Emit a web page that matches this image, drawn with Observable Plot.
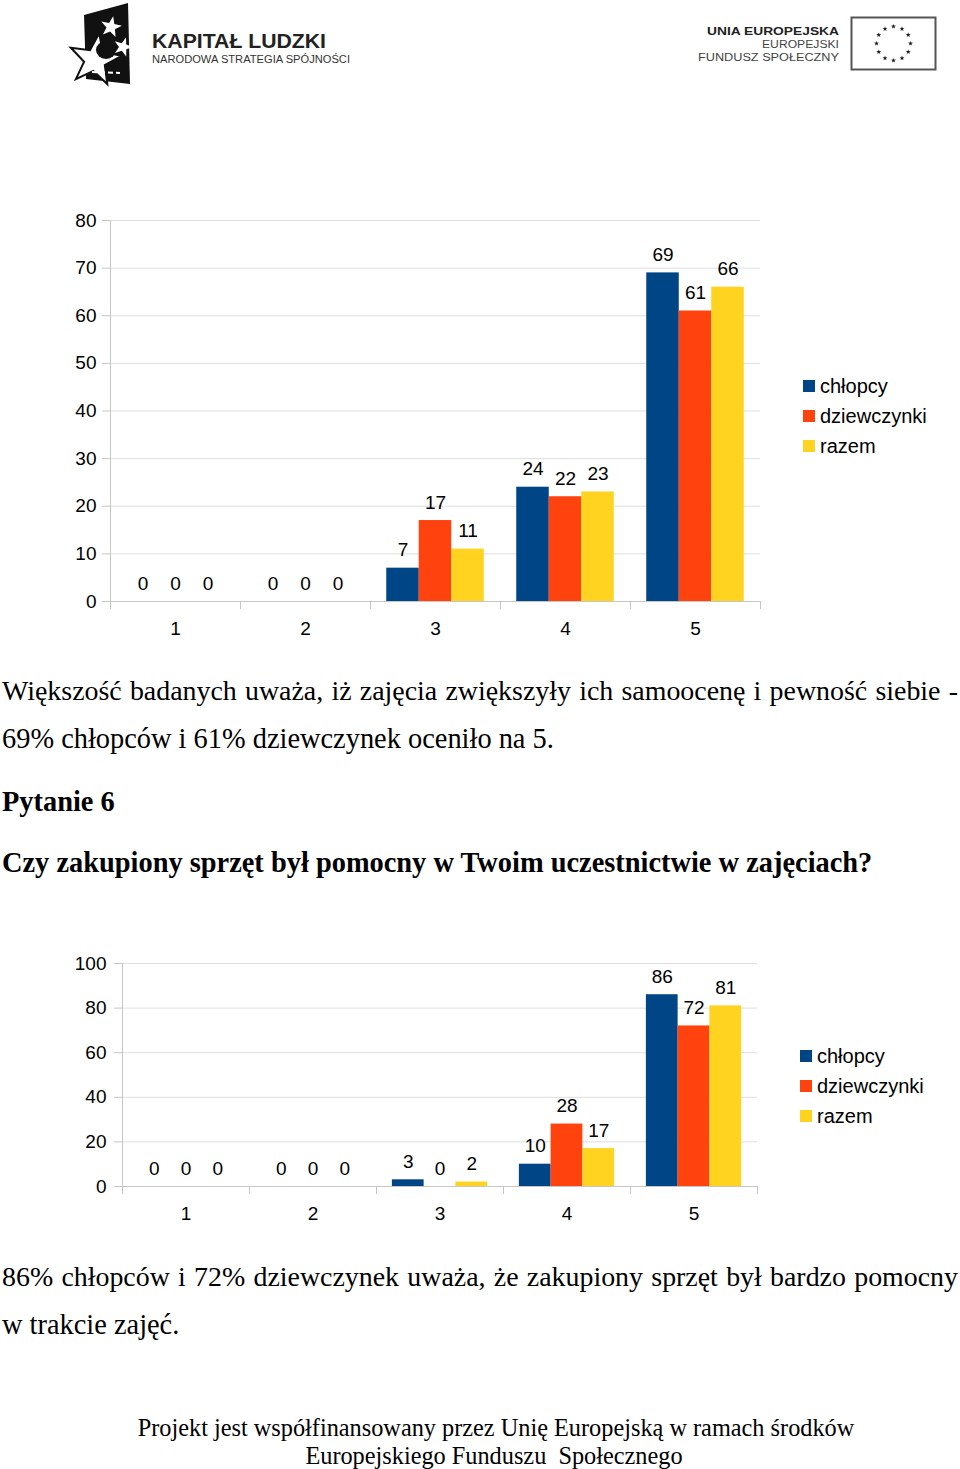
<!DOCTYPE html>
<html><head><meta charset="utf-8">
<script src="https://cdn.jsdelivr.net/npm/d3@7"></script>
<script src="https://cdn.jsdelivr.net/npm/@observablehq/plot@0.6"></script>
<style>
body{margin:0;background:#fff;}
#page{position:relative;width:960px;height:1469px;overflow:hidden;font-family:"Liberation Serif","Times New Roman",serif;color:#000;background:#fff;}
.abs{position:absolute;line-height:1;white-space:pre;}
.just{white-space:nowrap;text-align:justify;text-align-last:justify;}
.legend{position:absolute;font-family:"Liberation Sans",Arial,sans-serif;font-size:20px;}
.legend .row{display:flex;align-items:center;height:30px;}
.legend .sw{width:12px;height:12px;margin-right:5px;}
.chart{position:absolute;left:0;}
</style></head><body><div id="page"></div>
<script>
const categories = [1, 2, 3, 4, 5];
const series = ["chłopcy", "dziewczynki", "razem"];
const seriesColors = ["#004586", "#ff420e", "#ffd320"];
const q5Boys = [0, 0, 7, 24, 69];
const q5Girls = [0, 0, 17, 22, 61];
const q5Total = [0, 0, 11, 23, 66];
const q6Boys = [0, 0, 3, 10, 86];
const q6Girls = [0, 0, 0, 28, 72];
const q6Total = [0, 0, 2, 17, 81];
const q5Ticks = [0, 10, 20, 30, 40, 50, 60, 70, 80];
const q6Ticks = [0, 20, 40, 60, 80, 100];

const page = document.getElementById("page");

// ---- header logos (decorative) ----
function star(cx, cy, R, r, rot) {
  const pts = [];
  for (let k = 0; k < 10; k++) {
    const a = rot + k * Math.PI / 5;
    const rr = k % 2 ? r : R;
    pts.push((cx + rr * Math.sin(a)).toFixed(1) + "," + (cy - rr * Math.cos(a)).toFixed(1));
  }
  return pts.join(" ");
}
let euStars = "";
for (let k = 0; k < 12; k++) {
  const a = k * Math.PI / 6;
  euStars += `<polygon points="${star(893.5 + 17 * Math.sin(a), 43.5 - 17 * Math.cos(a), 2.6, 1.1, 0)}" fill="#222"/>`;
}
const header = document.createElement("div");
header.style.cssText = "position:absolute;left:0;top:0;";
header.innerHTML = `<svg width="960" height="100" xmlns="http://www.w3.org/2000/svg">
<polygon points="84,15 128,3 130,84 86,79" fill="#111"/>
<polygon points="${star(95, 60, 27, 11, -1.1)}" fill="#fff" stroke="#111" stroke-width="2"/>
<ellipse cx="106" cy="50" rx="10" ry="9" fill="#111"/>
<polygon points="${star(111, 27, 11, 4.5, 0.2)}" fill="#fff"/>
<polygon points="${star(123, 47, 10, 4, 0.3)}" fill="#fff"/>
<line x1="92" y1="72" x2="120" y2="73" stroke="#fff" stroke-width="2" stroke-dasharray="5,3"/>
<text x="152" y="48" font-family="Liberation Sans, Arial, sans-serif" font-weight="bold" font-size="20" fill="#222" textLength="174" lengthAdjust="spacingAndGlyphs">KAPITAŁ LUDZKI</text>
<text x="152" y="63" font-family="Liberation Sans, Arial, sans-serif" font-size="10" fill="#333" textLength="198" lengthAdjust="spacingAndGlyphs">NARODOWA STRATEGIA SPÓJNOŚCI</text>
<text x="707" y="35" font-family="Liberation Sans, Arial, sans-serif" font-weight="bold" font-size="10" fill="#222" textLength="132" lengthAdjust="spacingAndGlyphs">UNIA EUROPEJSKA</text>
<text x="762" y="48" font-family="Liberation Sans, Arial, sans-serif" font-size="10" fill="#444" textLength="77" lengthAdjust="spacingAndGlyphs">EUROPEJSKI</text>
<text x="698" y="61" font-family="Liberation Sans, Arial, sans-serif" font-size="10" fill="#444" textLength="141" lengthAdjust="spacingAndGlyphs">FUNDUSZ SPOŁECZNY</text>
<rect x="851.5" y="17.5" width="84" height="52" fill="#fff" stroke="#555" stroke-width="2"/>
${euStars}
</svg>`;
page.appendChild(header);

// ---- charts ----
function chart(values, ticks, cfg) {
  const rows = categories.flatMap((c, ci) => series.map((s, si) => ({cat: c, series: s, si, value: values[si][ci]})));
  const groupWidth = 0.75, barW = groupWidth / series.length;
  const bounds = [...categories.map(c => c - 0.5), categories[categories.length - 1] + 0.5];
  const ymax = ticks[ticks.length - 1];
  const axisColor = "#c6c6c6";
  const svg = Plot.plot({
    width: 960, height: cfg.height,
    marginTop: cfg.marginTop, marginBottom: cfg.marginBottom,
    marginLeft: cfg.marginLeft, marginRight: cfg.marginRight,
    x: {domain: [bounds[0], bounds[bounds.length - 1]]},
    y: {domain: [0, ymax]},
    color: {domain: series, range: seriesColors},
    style: {fontFamily: "'Liberation Sans', Arial, sans-serif", fontSize: "19px", background: "transparent", overflow: "visible", color: "#000"},
    marks: [
      Plot.gridY(ticks, {stroke: "#dedede", strokeOpacity: 1}),
      Plot.axisY(ticks, {tickSize: 8, tickPadding: cfg.tickPadding, stroke: axisColor, strokeOpacity: 1, fill: "#000", fontSize: 19, label: null, tickFormat: d => String(d)}),
      Plot.ruleX([bounds[0]], {y1: ymax, y2: 0, insetBottom: -8, stroke: axisColor}),
      Plot.ruleX(bounds.slice(1), {y1: 0, y2: 0, insetBottom: -8, stroke: axisColor}),
      Plot.ruleY([0], {stroke: axisColor}),
      Plot.rectY(rows, {
        x1: d => d.cat - groupWidth / 2 + d.si * barW,
        x2: d => d.cat - groupWidth / 2 + (d.si + 1) * barW,
        y1: 0, y2: "value", fill: "series"
      }),
      Plot.text(rows, {
        x: d => d.cat - groupWidth / 2 + (d.si + 0.5) * barW,
        y: "value", text: d => String(d.value), dy: -18, fontSize: 19, fill: "#000"
      }),
      Plot.axisX(categories, {tickSize: 0, tickPadding: 20, fontSize: 19, fill: "#000", label: null, tickFormat: d => String(d)})
    ]
  });
  svg.classList.add("chart");
  svg.style.top = cfg.top + "px";
  page.appendChild(svg);
}

function legend(left, top) {
  const div = document.createElement("div");
  div.className = "legend";
  div.style.left = left + "px";
  div.style.top = top + "px";
  series.forEach((s, i) => {
    const row = document.createElement("div");
    row.className = "row";
    const sw = document.createElement("div");
    sw.className = "sw";
    sw.style.background = seriesColors[i];
    const t = document.createElement("span");
    t.textContent = s;
    row.appendChild(sw); row.appendChild(t);
    div.appendChild(row);
  });
  page.appendChild(div);
}

chart([q5Boys, q5Girls, q5Total], q5Ticks, {top: 200, height: 450, marginTop: 20, marginBottom: 49, marginLeft: 110, marginRight: 200, tickPadding: 6});
legend(803, 371);
chart([q6Boys, q6Girls, q6Total], q6Ticks, {top: 940, height: 300, marginTop: 23, marginBottom: 54, marginLeft: 122, marginRight: 203, tickPadding: 8});
legend(800, 1041);

// ---- body text ----
function line(text, {x = 2, baseline, size = 28.4, bold = false, width = null, center = null}) {
  const d = document.createElement("div");
  d.className = "abs" + (width ? " just" : "");
  d.textContent = text;
  d.style.fontSize = size + "px";
  d.style.top = (baseline - 0.8375 * size) + "px";
  if (bold) d.style.fontWeight = "bold";
  if (center != null) {
    d.style.left = (center - 500) + "px";
    d.style.width = "1000px";
    d.style.textAlign = "center";
  } else {
    d.style.left = x + "px";
    if (width) d.style.width = width + "px";
  }
  page.appendChild(d);
}
line("Większość badanych uważa, iż zajęcia zwiększyły ich samoocenę i pewność siebie -", {baseline: 700, width: 956, size: 27.9});
line("69% chłopców i 61% dziewczynek oceniło na 5.", {baseline: 749});
line("Pytanie 6", {baseline: 812, bold: true});
line("Czy zakupiony sprzęt był pomocny w Twoim uczestnictwie w zajęciach?", {baseline: 873, bold: true});
line("86% chłopców i 72% dziewczynek uważa, że zakupiony sprzęt był bardzo pomocny", {baseline: 1286, width: 956, size: 27.9});
line("w trakcie zajęć.", {baseline: 1335});
line("Projekt jest współfinansowany przez Unię Europejską w ramach środków", {baseline: 1436, size: 24.3, center: 496});
line("Europejskiego Funduszu  Społecznego", {baseline: 1464, size: 24.3, center: 494});
</script>
</body></html>
